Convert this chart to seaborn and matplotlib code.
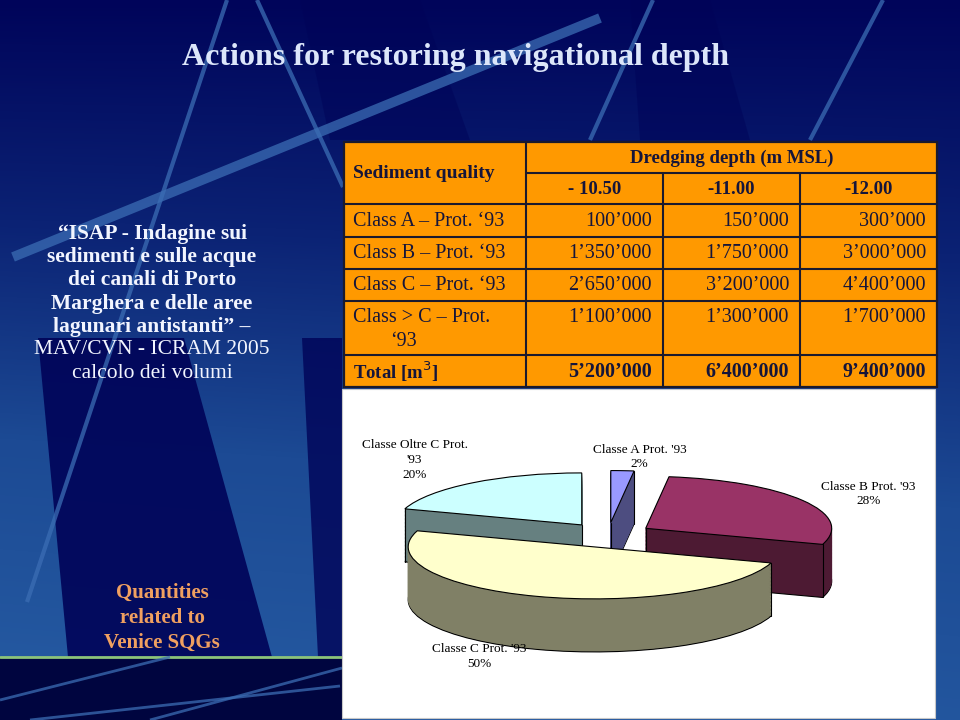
"""
Slide: Actions for restoring navigational depth -- volume table + 3D-style pie.
Output: out.png (960x720)
"""

import numpy as np
import matplotlib
matplotlib.use("Agg")
import matplotlib.pyplot as plt
from matplotlib.patches import Rectangle, Polygon
from matplotlib.colors import LinearSegmentedColormap
import seaborn as sns

# ==========================================
# Data
# ==========================================
DEPTHS = ["- 10.50", "-11.00", "-12.00"]
CLASSES = ["Class A – Prot. ‘93", "Class B – Prot. ‘93",
           "Class C – Prot. ‘93", "Class > C – Prot."]
VOL_1050 = [100000, 1350000, 2650000, 1100000]
VOL_1100 = [150000, 1750000, 3200000, 1300000]
VOL_1200 = [300000, 3000000, 4400000, 1700000]

PIE_LABELS = ["Classe A Prot. '93\n2%", "Classe B Prot. '93\n28%",
              "Classe C Prot. '93\n50%", "Classe Oltre C Prot.\n'93\n20%"]
PIE_PCT = [2, 28, 50, 20]

TOP_COLORS = ["#9999FF", "#993366", "#FFFFCC", "#CCFFFF"]
SIDE_COLORS = ["#4D4D80", "#4D1A33", "#808066", "#668080"]

LEFT_LINES = ["“ISAP - Indagine sui", "sedimenti e sulle acque",
              "dei canali di Porto", "Marghera e delle aree",
              "lagunari antistanti” –", "MAV/CVN - ICRAM 2005",
              "calcolo dei volumi"]
SQG_LINES = ["Quantities", "related to", "Venice SQGs"]

sns.set_theme(style="white")
plt.rcParams["font.family"] = ["Liberation Serif", "DejaVu Serif"]

TXT = "#15153a"
SERIF = ["Liberation Serif", "DejaVu Serif"]


def fmt(v):
    return f"{v:,}".replace(",", "’")


fig = plt.figure(figsize=(9.6, 7.2), dpi=100)

# ---- background (pixel coords) ----
bg = fig.add_axes([0, 0, 1, 1])
bg.set_xlim(0, 960)
bg.set_ylim(720, 0)
bg.axis("off")

yy, xx = np.mgrid[0:720, 0:960]
grad = np.clip(0.85 * yy / 650 + 0.15 * (1 - xx / 960) * (yy / 720), 0, 1)
cmap_bg = LinearSegmentedColormap.from_list("bg", ["#00045a", "#0b2274", "#1c4a94", "#2458a0"])
bg.imshow(grad, cmap=cmap_bg, extent=(0, 960, 720, 0), aspect="auto", zorder=0)

# darker strips
for poly, a in (([(38, 338), (184, 338), (272, 657), (68, 657)], 0.9),
                ([(302, 338), (342, 338), (342, 657), (318, 657)], 0.8),
                ([(300, 0), (420, 0), (470, 140), (330, 140)], 0.5),
                ([(630, 0), (710, 0), (750, 140), (640, 140)], 0.5)):
    bg.add_patch(Polygon(poly, closed=True, color="#000358", alpha=a, lw=0, zorder=1))
bg.add_patch(Rectangle((0, 657), 342, 63, color="#00053f", lw=0, zorder=1))
bg.plot([0, 342], [657, 657], color="#8cc47a", lw=2, zorder=2)

# light streaks
streaks = [((13, 257), (600, 18), 7), ((227, 0), (27, 602), 3), ((257, 0), (343, 187), 3),
           ((653, 0), (590, 140), 3), ((883, 0), (810, 140), 3),
           ((30, 720), (340, 686), 2), ((150, 720), (342, 668), 2), ((0, 700), (170, 657), 2)]
for (x0, y0), (x1, y1), w in streaks:
    bg.plot([x0, x1], [y0, y1], color="#3b6db4", lw=w, alpha=0.75, solid_capstyle="butt", zorder=2)

# ---- title & left texts ----
bg.text(455, 58, "Actions for restoring navigational depth", ha="center", va="center",
        fontsize=23, fontweight="bold", color="#dce6fa", zorder=5)

for i, line in enumerate(LEFT_LINES):
    bg.text(152, 234 + i * 23.2, line, ha="center", va="center", fontsize=15.5,
            fontweight="bold" if i < 5 else "normal", color="#f2f5ff", zorder=5)

for i, line in enumerate(SQG_LINES):
    bg.text(162, 593 + i * 25, line, ha="center", va="center", fontsize=15,
            fontweight="bold", color="#f0a060", zorder=5)

# ==========================================
# Table
# ==========================================
cx = [344, 526, 663, 800, 937]
ry = [142, 173, 204, 237, 269, 301, 355, 387]
lc = "#1a1a2e"
bg.add_patch(Rectangle((cx[0], ry[0]), cx[-1] - cx[0], ry[-1] - ry[0],
                       facecolor="#FF9900", edgecolor=lc, lw=1.6, zorder=3))
bg.plot([cx[1], cx[1]], [ry[0], ry[-1]], color=lc, lw=1.5, zorder=4)
for x in cx[2:4]:
    bg.plot([x, x], [ry[1], ry[-1]], color=lc, lw=1.5, zorder=4)
bg.plot([cx[1], cx[-1]], [ry[1], ry[1]], color=lc, lw=1.5, zorder=4)
for y in ry[2:-1]:
    bg.plot([cx[0], cx[-1]], [y, y], color=lc, lw=1.5, zorder=4)

bg.text(353, (ry[0] + ry[2]) / 2, "Sediment quality", ha="left", va="center",
        fontsize=14, fontweight="bold", color=TXT, zorder=5)
bg.text((cx[1] + cx[-1]) / 2, (ry[0] + ry[1]) / 2 + 1, "Dredging depth (m MSL)", ha="center",
        va="center", fontsize=13.5, fontweight="bold", color=TXT, zorder=5)
for j, d in enumerate(DEPTHS):
    bg.text((cx[j + 1] + cx[j + 2]) / 2, (ry[1] + ry[2]) / 2 + 1, d, ha="center", va="center",
            fontsize=13.5, fontweight="bold", color=TXT, zorder=5)

columns = [VOL_1050, VOL_1100, VOL_1200]
for i, name in enumerate(CLASSES):
    y = (ry[2 + i] + ry[3 + i]) / 2 + 1 if i < 3 else ry[5] + 17
    bg.text(353, y, name, ha="left", va="center", fontsize=14.5, color=TXT, zorder=5)
    for j, col in enumerate(columns):
        bg.text(cx[j + 2] - 11, y, fmt(col[i]), ha="right", va="center",
                fontsize=14.5, color=TXT, zorder=5)
bg.text(403, ry[5] + 40, "‘93", ha="center", va="center", fontsize=14.5, color=TXT, zorder=5)

yt = (ry[6] + ry[7]) / 2 + 1
bg.text(353, yt, "Total [m$^3$]", ha="left", va="center", fontsize=13.5,
        fontweight="bold", color=TXT, zorder=5)
for j, col in enumerate(columns):
    bg.text(cx[j + 2] - 11, yt, fmt(sum(col)), ha="right", va="center",
            fontsize=14.5, fontweight="bold", color=TXT, zorder=5)

# white chart box
bg.add_patch(Rectangle((342, 389), 593, 329, facecolor="white", edgecolor="#c8c8c8",
                       lw=0.8, zorder=3))

# ==========================================
# 3D-looking pie (stacked layers)
# ==========================================
pax = fig.add_axes([342 / 960, 2 / 720, 593 / 960, 329 / 720])
pax.patch.set_alpha(0)
explode = [0.24] * len(PIE_PCT)
DEPTH = 1.02
layers = np.linspace(DEPTH, 0, 40)[:-1]
for k, d in enumerate(layers):
    wedges, _ = pax.pie(PIE_PCT, explode=explode, colors=SIDE_COLORS, startangle=90,
                        counterclock=False, center=(0, -d))
    for w in wedges:
        if k == 0:
            w.set_edgecolor("black")
            w.set_linewidth(0.8)
        else:
            w.set_edgecolor(w.get_facecolor())
            w.set_linewidth(0.6)
top_wedges, _ = pax.pie(PIE_PCT, explode=explode, colors=TOP_COLORS, startangle=90,
                        counterclock=False, center=(0, 0),
                        wedgeprops=dict(linewidth=0.8, edgecolor="black"))

pax.set_aspect("auto")
pax.set_xlim(-1.430, 1.758)
pax.set_ylim(-3.519, 2.808)
pax.axis("off")

# vertical edges of the extruded slices (only where they leave the top face)
for w in top_wedges:
    w.set_zorder(3)
    wx, wy = w.center
    angles = [w.theta1, w.theta2] + [a for a in (-180, 0, 180) if w.theta1 < a < w.theta2]
    pts = [(wx, wy)] + [(wx + w.r * np.cos(np.radians(a)), wy + w.r * np.sin(np.radians(a)))
                        for a in angles]
    for px, py in pts:
        probe = pax.transData.transform((px, py - 0.04))
        if w.contains_point(probe):
            continue
        pax.plot([px, px], [py, py - DEPTH], color="black", lw=0.8, zorder=2)

label_pos = [(0.17, 1.50), (1.40, 0.79), (-0.69, -2.33), (-1.04, 1.44)]
for (lx, ly), lab in zip(label_pos, PIE_LABELS):
    pax.text(lx, ly, lab, ha="center", va="center", fontsize=9.5,
             color="black", linespacing=1.3, family=SERIF)

fig.savefig("out.png", dpi=100)
plt.close(fig)
